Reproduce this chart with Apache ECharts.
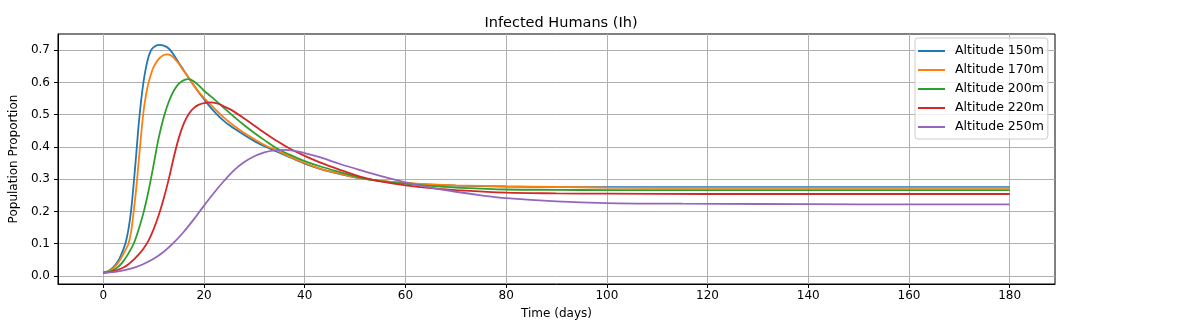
<!DOCTYPE html>
<html>
<head>
<meta charset="utf-8">
<script src="https://cdn.jsdelivr.net/npm/echarts@6/dist/echarts.min.js"></script>
<style>
html,body{margin:0;padding:0;background:#fff;}
#chart{width:1178px;height:330px;}
</style>
</head>
<body>
<div id="chart"></div>
<script>
// ---- Data ----
const seriesNames = ['Altitude 150m','Altitude 170m','Altitude 200m','Altitude 220m','Altitude 250m'];
const xTicks = [0,20,40,60,80,100,120,140,160,180];
const yTicks = [0,0.1,0.2,0.3,0.4,0.5,0.6,0.7];

const t150 = [0,1,2,3,3.5,4,4.5,5,5.5,6,6.5,7,7.5,8,8.5,9,9.5,10,11,12,13,14,15,16,17,18,19,20,21,22,23,24,25,26,28,30,32,34.5,37,40,43,47,51,55,60,65,70,80,90,100,120,140,160,180];
const ih150 = [0.01,0.015,0.027,0.048,0.064,0.083,0.107,0.145,0.2,0.28,0.37,0.465,0.542,0.603,0.648,0.68,0.7,0.709,0.716,0.714,0.705,0.685,0.66,0.637,0.613,0.59,0.568,0.548,0.528,0.51,0.494,0.48,0.468,0.457,0.437,0.418,0.402,0.385,0.368,0.348,0.332,0.316,0.303,0.295,0.288,0.283,0.28,0.277,0.276,0.275,0.275,0.275,0.275,0.275];

const t170 = [0,1,2,3,4,4.5,5,5.5,6,6.5,7,7.5,8,8.5,9,9.5,10,11,12,12.7,13.5,14,15,16,17,18,19,20,22,24,26,28,30,32,34.5,37,40,43,47,51,55,60,65,70,80,90,100,120,140,160,180];
const ih170 = [0.01,0.014,0.024,0.042,0.068,0.083,0.1,0.135,0.195,0.265,0.35,0.435,0.512,0.563,0.6,0.627,0.648,0.673,0.685,0.687,0.683,0.676,0.658,0.635,0.613,0.59,0.57,0.552,0.52,0.49,0.465,0.443,0.424,0.406,0.389,0.37,0.35,0.333,0.317,0.303,0.295,0.289,0.284,0.281,0.278,0.276,0.274,0.273,0.273,0.273,0.273];

const t200 = [0,1,2,3,4,5,6,7,8,9,10,11,12,13,14,15,16,17,18,19,20,21,22,24,26,28,30,32,34.5,37,40,43,47,51,55,60,65,70,80,90,100,120,140,160,180];
const ih200 = [0.01,0.012,0.018,0.029,0.046,0.07,0.099,0.143,0.197,0.265,0.345,0.428,0.492,0.54,0.574,0.596,0.607,0.61,0.603,0.59,0.574,0.561,0.548,0.52,0.493,0.467,0.443,0.421,0.395,0.376,0.356,0.34,0.322,0.305,0.294,0.286,0.279,0.274,0.268,0.267,0.266,0.266,0.266,0.266,0.266];

const t220 = [0,2,4,5,6,7,8,9,10,11,12,13,14,15,16,17,18,19,20,21.5,23,24,25.5,28,31,34.5,37,40,43,47,51,55,60,65,70,80,90,100,120,140,160,180];
const ih220 = [0.01,0.014,0.026,0.036,0.05,0.066,0.085,0.11,0.145,0.188,0.24,0.3,0.368,0.428,0.473,0.503,0.521,0.531,0.536,0.538,0.533,0.525,0.514,0.488,0.455,0.418,0.395,0.372,0.352,0.329,0.308,0.293,0.281,0.272,0.266,0.258,0.256,0.255,0.254,0.254,0.254,0.254];

const t250 = [0,2,4,6,8,10,12,14,16,18,20,22,24,26,28,30,32,34,36,38,40,43,47,51,55,60,65,70,75,80,90,100,115,130,150,180];
const ih250 = [0.01,0.012,0.017,0.025,0.037,0.053,0.075,0.103,0.137,0.176,0.218,0.258,0.295,0.328,0.353,0.371,0.383,0.389,0.391,0.388,0.381,0.368,0.347,0.328,0.31,0.29,0.274,0.261,0.25,0.241,0.231,0.226,0.224,0.223,0.222,0.222];

const colors = ['#1f77b4','#ff7f0e','#2ca02c','#d62728','#9467bd'];
const times = [t150,t170,t200,t220,t250];
const values = [ih150,ih170,ih200,ih220,ih250];

const FONT = 'DejaVu Sans';
const chart = echarts.init(document.getElementById('chart'), null, {renderer:'canvas'});

const series = seriesNames.map((name,i)=>({
  name: name,
  type: 'line',
  data: times[i].map((t,k)=>[t, values[i][k]]),
  showSymbol: false,
  symbol: 'none',
  smooth: 0.35,
  lineStyle: {color: colors[i], width: 1.8},
  itemStyle: {color: colors[i]},
  animation: false
}));

chart.setOption({
  animation: false,
  backgroundColor: '#fff',
  title: {
    text: 'Infected Humans (Ih)',
    left: 556, top: 11, textAlign: 'center',
    textStyle: {fontFamily: FONT, fontSize: 14.5, fontWeight: 'normal', color: '#000'}
  },
  legend: {
    orient: 'vertical',
    left: 915, top: 38,
    padding: [6, 4, 5, 3],
    itemWidth: 27, itemHeight: 2,
    itemGap: 5,
    icon: 'rect',
    backgroundColor: 'rgba(255,255,255,0.8)',
    borderColor: '#cccccc', borderWidth: 1, borderRadius: 3,
    textStyle: {fontFamily: FONT, fontSize: 12.5, color: '#000', lineHeight: 14, padding: [0,0,0,5]},
    data: seriesNames
  },
  grid: {
    left: 57, right: 123, top: 34, bottom: 46,
    show: true, borderColor: '#000', borderWidth: 1, backgroundColor: 'transparent'
  },
  xAxis: {
    type: 'value', min: -9, max: 189,
    name: 'Time (days)', nameLocation: 'middle', nameGap: 24,
    nameTextStyle: {fontFamily: FONT, fontSize: 12, color: '#000'},
    axisLine: {show: true, onZero: false, lineStyle: {color: '#000', width: 1}},
    axisTick: {show: true, inside: false, length: 4, lineStyle: {color: '#000'}, customValues: xTicks},
    axisLabel: {fontFamily: FONT, fontSize: 12, color: '#000', margin: 6, customValues: xTicks},
    splitLine: {show: true, lineStyle: {color: '#b0b0b0', width: 1}}
  },
  yAxis: {
    type: 'value', min: -0.025, max: 0.75,
    name: 'Population Proportion', nameLocation: 'middle', nameGap: 35,
    nameTextStyle: {fontFamily: FONT, fontSize: 12, color: '#000'},
    axisLine: {show: true, onZero: false, lineStyle: {color: '#000', width: 1}},
    axisTick: {show: true, inside: false, length: 4, lineStyle: {color: '#000'}, customValues: yTicks},
    axisLabel: {fontFamily: FONT, fontSize: 12, color: '#000', margin: 8, customValues: yTicks,
      formatter: v => v.toFixed(1)},
    splitLine: {show: true, lineStyle: {color: '#b0b0b0', width: 1}}
  },
  series: series
});
</script>
</body>
</html>
